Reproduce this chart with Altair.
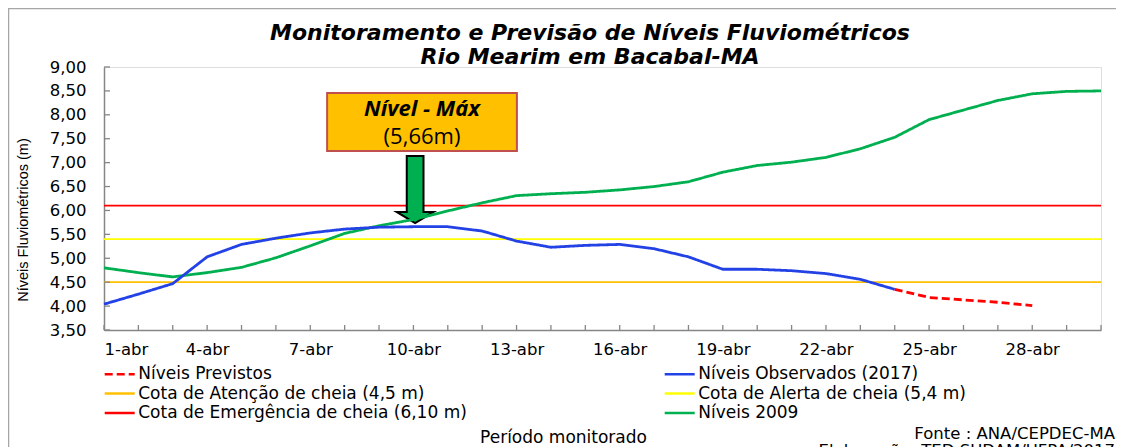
import altair as alt
import pandas as pd

# ---------------- data ----------------
days = list(range(1, 31))
niveis_2009 = [4.80, 4.70, 4.61, 4.70, 4.81, 5.01, 5.26, 5.52, 5.68, 5.81,
               5.99, 6.16, 6.31, 6.35, 6.38, 6.43, 6.50, 6.60, 6.80, 6.94,
               7.01, 7.11, 7.29, 7.53, 7.90, 8.10, 8.30, 8.44, 8.49, 8.50]
obs_days = list(range(1, 25))
niveis_obs = [4.04, 4.25, 4.47, 5.03, 5.29, 5.42, 5.53, 5.61, 5.65, 5.66,
              5.66, 5.57, 5.36, 5.23, 5.27, 5.29, 5.20, 5.03, 4.77, 4.77,
              4.74, 4.68, 4.56, 4.35]
prev_days = [24, 25, 26, 27, 28]
niveis_prev = [4.35, 4.18, 4.13, 4.08, 4.01]

S_PREV = "Níveis Previstos"
S_OBS = "Níveis Observados (2017)"
S_ATEN = "Cota de Atenção de cheia (4,5 m)"
S_ALER = "Cota de Alerta de cheia (5,4 m)"
S_EMER = "Cota de Emergência de cheia (6,10 m)"
S_2009 = "Níveis 2009"

# legend fills column by column: left column first, then right column
series_order = [S_PREV, S_ATEN, S_EMER, S_OBS, S_ALER, S_2009]
series_colors = ["#FF0000", "#FFC000", "#FF0000", "#2342E6", "#FFFF00", "#00B050"]
series_dash = [[8, 4], [1, 0], [1, 0], [1, 0], [1, 0], [1, 0]]

cota_names = [S_ATEN, S_ALER, S_EMER]
cota_values = [4.5, 5.4, 6.10]

x_tick_values = [1, 4, 7, 10, 13, 16, 19, 22, 25, 28]
y_tick_values = [3.5, 4.0, 4.5, 5.0, 5.5, 6.0, 6.5, 7.0, 7.5, 8.0, 8.5, 9.0]

title_lines = ["Monitoramento e Previsão de Níveis Fluviométricos",
               "Rio Mearim em Bacabal-MA"]
box_text_1 = "Nível - Máx"
box_text_2 = "(5,66m)"
source_lines = ["Fonte : ANA/CEPDEC-MA", "Elaboração: TED SUDAM/UFPA/2017"]

# annotation anchor (data coords)
box_day = [7.49, 13.01]
box_level = [8.456, 7.243]
box_text_day = 10.25
box_text_levels = [7.97, 7.38]
arrow_day = 10.05
arrow_level = 6.438

W, H = 997, 263

# ---------------- tables ----------------
lines_df = pd.concat([
    pd.DataFrame({"day": days, "nivel": niveis_2009, "serie": S_2009}),
    pd.DataFrame({"day": obs_days, "nivel": niveis_obs, "serie": S_OBS}),
    pd.DataFrame({"day": prev_days, "nivel": niveis_prev, "serie": S_PREV}),
])
cotas_df = pd.DataFrame({"nivel": cota_values, "serie": cota_names})

xs = alt.Scale(domain=[1, 30], nice=False, zero=False)
ys = alt.Scale(domain=[3.5, 9.0], nice=False, zero=False)

x_axis = alt.Axis(
    values=x_tick_values, labelExpr="datum.value + '-abr'",
    ticks=False, tickSize=0, grid=False, labelPadding=11,
    labelFont="DejaVu Sans", labelFontSize=16.5, labelColor="black",
    domainColor="#868686", domainWidth=1.5,
    title="Período monitorado", titleFont="DejaVu Sans", titleFontSize=17,
    titleFontWeight="normal", titleColor="black", titleX=459, titleY=112,
    titleBaseline="alphabetic", titleAlign="center",
)
y_axis = alt.Axis(
    values=y_tick_values,
    labelExpr="replace(format(datum.value, '.2f'), '.', ',')",
    ticks=False, tickSize=0, grid=False, labelPadding=18,
    labelFont="DejaVu Sans", labelFontSize=16.5, labelColor="black",
    domainColor="#868686", domainWidth=1.5,
    title="Níveis Fluviométricos (m)", titleFont="Liberation Sans",
    titleFontSize=14.5, titleFontWeight="normal", titleColor="black",
    titleX=-74, titleY=H / 2 + 21, titleAngle=270, titleBaseline="bottom",
    titleAlign="center",
)

X = alt.X("day:Q", scale=xs, axis=x_axis)
Y = alt.Y("nivel:Q", scale=ys, axis=y_axis)

legend = alt.Legend(
    title=None, orient="none", legendX=7.2, legendY=298.5, columns=2,
    columnPadding=192, rowPadding=1.5, symbolType="M-3,0H3", symbolSize=100,
    symbolStrokeWidth=2.5, labelFont="DejaVu Sans", labelFontSize=17,
    labelColor="black", labelOffset=10, labelLimit=500, padding=0,
)
color_enc = alt.Color("serie:N", scale=alt.Scale(domain=series_order, range=series_colors),
                      legend=legend)
dash_enc = alt.StrokeDash("serie:N", scale=alt.Scale(domain=series_order, range=series_dash),
                          legend=legend)

one = pd.DataFrame({"k": [0]})

frame = alt.Chart(one).mark_rect(fillOpacity=0, stroke="#A6A6A6", strokeWidth=1.5).encode(
    x=alt.value(-95.5), x2=alt.value(1100), y=alt.value(-58.5), y2=alt.value(600)
)

cotas = alt.Chart(cotas_df).mark_rule(strokeWidth=1.8).encode(
    y=Y, color=color_enc, strokeDash=dash_enc
)

lines = alt.Chart(lines_df).mark_line(strokeWidth=2.8).encode(
    x=X, y=Y, color=color_enc, strokeDash=dash_enc, detail="serie:N"
)

xticks = alt.Chart(pd.DataFrame({"day": days})).mark_rule(color="#868686", strokeWidth=1.3).encode(
    x=X, y=alt.value(H), y2=alt.value(H - 5)
)
yticks = alt.Chart(pd.DataFrame({"nivel": y_tick_values})).mark_rule(color="#868686", strokeWidth=1.3).encode(
    y=Y, x=alt.value(0), x2=alt.value(6)
)

box = alt.Chart(pd.DataFrame({"day": [box_day[0]], "day2": [box_day[1]],
                              "nivel": [box_level[0]], "nivel2": [box_level[1]]})).mark_rect(
    fill="#FFC000", stroke="#C0504D", strokeWidth=2
).encode(x=X, x2="day2:Q", y=Y, y2="nivel2:Q")

box_t1 = alt.Chart(pd.DataFrame({"day": [box_text_day], "nivel": [box_text_levels[0]], "t": [box_text_1]})).mark_text(
    font="Open Sans", fontSize=22, fontWeight="bold", fontStyle="italic", color="black",
    align="center", baseline="alphabetic"
).encode(x=X, y=Y, text="t:N")
box_t2 = alt.Chart(pd.DataFrame({"day": [box_text_day], "nivel": [box_text_levels[1]], "t": [box_text_2]})).mark_text(
    font="Open Sans", fontSize=22, color="black", align="center", baseline="alphabetic"
).encode(x=X, y=Y, text="t:N")

arrow_path = "M-0.25,-1L0.25,-1L0.25,0.67L0.55,0.67L0,1L-0.55,0.67L-0.25,0.67Z"
arrow = alt.Chart(pd.DataFrame({"day": [arrow_day], "nivel": [arrow_level]})).mark_point(
    shape=arrow_path, size=4489, filled=True, fill="#00B050", fillOpacity=1,
    stroke="black", strokeWidth=2, strokeOpacity=1, opacity=1
).encode(x=X, y=Y)

title1 = alt.Chart(pd.DataFrame({"t": [title_lines[0]]})).mark_text(
    font="DejaVu Sans", fontSize=22, fontWeight="bold", fontStyle="italic",
    color="black", align="center", baseline="alphabetic"
).encode(x=alt.value(486), y=alt.value(-27), text="t:N")
title2 = alt.Chart(pd.DataFrame({"t": [title_lines[1]]})).mark_text(
    font="DejaVu Sans", fontSize=22, fontWeight="bold", fontStyle="italic",
    color="black", align="center", baseline="alphabetic"
).encode(x=alt.value(486), y=alt.value(-3.5), text="t:N")

src1 = alt.Chart(pd.DataFrame({"t": [source_lines[0]]})).mark_text(
    font="DejaVu Sans", fontSize=16.5, color="black", align="right", baseline="alphabetic"
).encode(x=alt.value(1011), y=alt.value(372), text="t:N")
src2 = alt.Chart(pd.DataFrame({"t": [source_lines[1]]})).mark_text(
    font="DejaVu Sans", fontSize=16.5, color="black", align="right", baseline="alphabetic"
).encode(x=alt.value(1011), y=alt.value(389), text="t:N")

chart = alt.layer(
    frame, cotas, arrow, lines, xticks, yticks, box, box_t1, box_t2,
    title1, title2, src1, src2
).properties(
    width=W, height=H,
    autosize=alt.AutoSizeParams(type="none"),
    padding={"left": 96, "top": 59, "right": 15, "bottom": 117},
).configure_view(stroke=None).configure(background="white")

chart.save("out.html", embed_options={"renderer": "svg", "actions": False})
